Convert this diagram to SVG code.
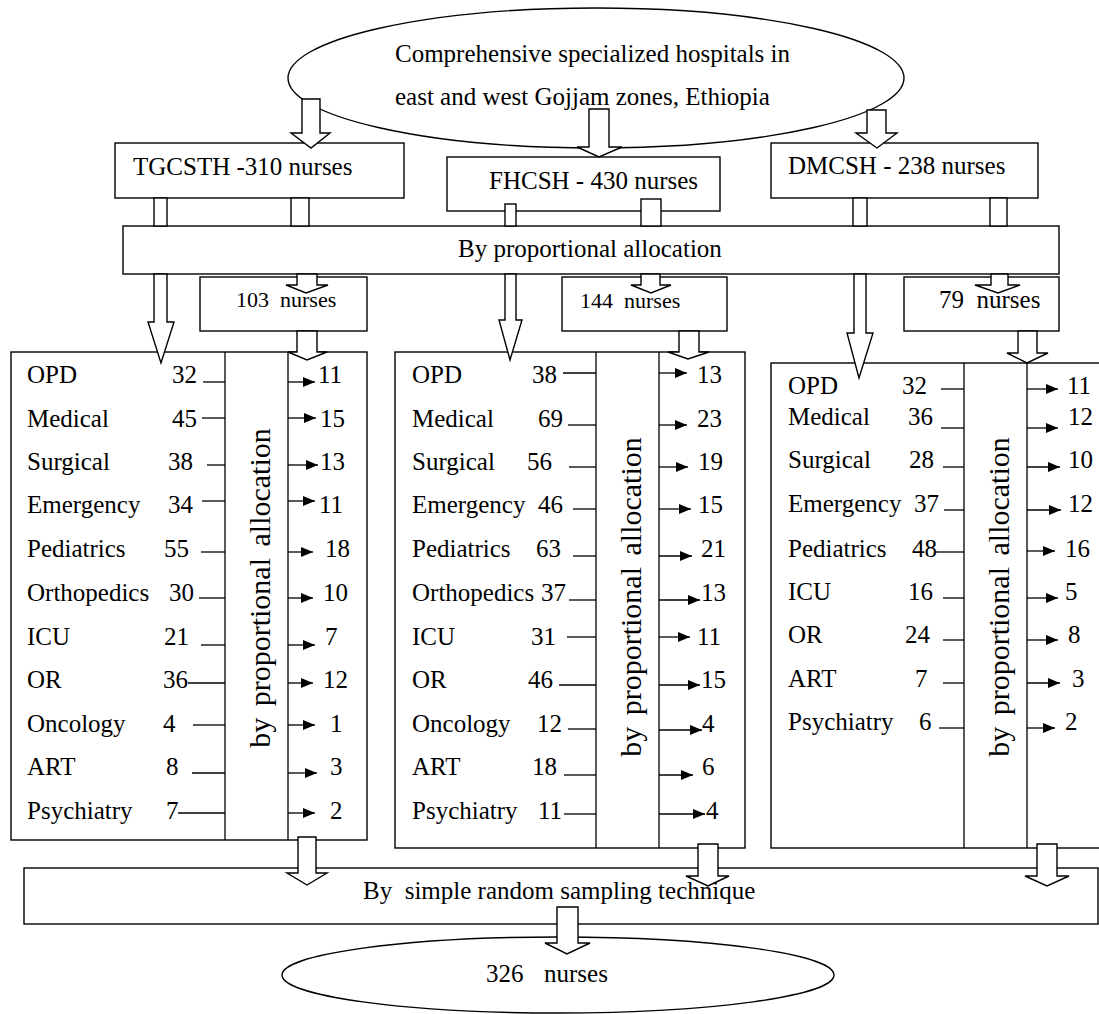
<svg xmlns="http://www.w3.org/2000/svg" width="1099" height="1014" viewBox="0 0 1099 1014">
<style>
.t{font-family:"Liberation Serif","Times New Roman",serif;font-size:25px;fill:#000}
.s{font-size:22px}
.r{font-size:30px;word-spacing:4px}
.b{fill:#fff;stroke:#000;stroke-width:1.4}
.ln{stroke:#000;stroke-width:1.3;fill:none}
.ba{fill:#fff;stroke:#000;stroke-width:1.4;stroke-linejoin:miter}
</style>
<defs>
<marker id="ah" markerUnits="userSpaceOnUse" markerWidth="12" markerHeight="10" refX="12" refY="5" orient="auto"><path d="M0,0 L12,5 L0,10 z" fill="#000"/></marker>
</defs>
<rect width="1099" height="1014" fill="#fff"/>

<g id="source">
<ellipse class="b" cx="596" cy="78" rx="308" ry="70"/>
<text class="t" x="395" y="62">Comprehensive specialized hospitals in</text>
<text class="t" x="395" y="105">east and west Gojjam zones, Ethiopia</text>
</g>

<g id="tgcsth"><rect class="b" x="115" y="143" width="289" height="55"/><text class="t" x="133" y="175">TGCSTH -310 nurses</text></g>
<g id="fhcsh"><rect class="b" x="447" y="157" width="273" height="54"/><text class="t" x="489" y="189">FHCSH - 430 nurses</text></g>
<g id="dmcsh"><rect class="b" x="771" y="143" width="267" height="55"/><text class="t" x="788" y="174">DMCSH - 238 nurses</text></g>

<g id="prop-bar"><rect class="b" x="123" y="226" width="936" height="48"/><text class="t" x="458" y="257">By proportional allocation</text></g>

<g id="n103"><rect class="b" x="200" y="277" width="167" height="54"/><text class="t s" x="236" y="307" xml:space="preserve">103  nurses</text></g>
<g id="n144"><rect class="b" x="562" y="277" width="165" height="54"/><text class="t s" x="580" y="308" xml:space="preserve">144  nurses</text></g>
<g id="n79"><rect class="b" x="904" y="277" width="155" height="54"/><text class="t" x="939" y="308" xml:space="preserve">79  nurses</text></g>

<g id="wards-tgcsth">
<rect class="b" x="11" y="352" width="356" height="488"/>
<line class="ln" x1="225" y1="352" x2="225" y2="840"/>
<line class="ln" x1="288" y1="352" x2="288" y2="840"/>
<text class="t r" transform="translate(270,588) rotate(-90)" text-anchor="middle">by proportional allocation</text>
<text class="t" x="27" y="383">OPD</text><text class="t" x="172" y="383">32</text><text class="t" x="318" y="383">11</text>
<text class="t" x="27" y="427">Medical</text><text class="t" x="172" y="427">45</text><text class="t" x="320" y="427">15</text>
<text class="t" x="27" y="470">Surgical</text><text class="t" x="168" y="470">38</text><text class="t" x="320" y="470">13</text>
<text class="t" x="27" y="513">Emergency</text><text class="t" x="168" y="513">34</text><text class="t" x="319" y="513">11</text>
<text class="t" x="27" y="557">Pediatrics</text><text class="t" x="164" y="557">55</text><text class="t" x="325" y="557">18</text>
<text class="t" x="27" y="601">Orthopedics</text><text class="t" x="169" y="601">30</text><text class="t" x="323" y="601">10</text>
<text class="t" x="27" y="645">ICU</text><text class="t" x="164" y="645">21</text><text class="t" x="325" y="645">7</text>
<text class="t" x="27" y="688">OR</text><text class="t" x="163" y="688">36</text><text class="t" x="323" y="688">12</text>
<text class="t" x="27" y="732">Oncology</text><text class="t" x="163" y="732">4</text><text class="t" x="330" y="732">1</text>
<text class="t" x="27" y="775">ART</text><text class="t" x="166" y="775">8</text><text class="t" x="330" y="775">3</text>
<text class="t" x="27" y="819">Psychiatry</text><text class="t" x="166" y="819">7</text><text class="t" x="330" y="819">2</text>
</g>

<g id="wards-fhcsh">
<rect class="b" x="395" y="352" width="350" height="496"/>
<line class="ln" x1="596" y1="352" x2="596" y2="848"/>
<line class="ln" x1="659" y1="352" x2="659" y2="848"/>
<text class="t r" transform="translate(641,597) rotate(-90)" text-anchor="middle">by proportional allocation</text>
<text class="t" x="412" y="383">OPD</text><text class="t" x="532" y="383">38</text><text class="t" x="697" y="383">13</text>
<text class="t" x="412" y="427">Medical</text><text class="t" x="538" y="427">69</text><text class="t" x="697" y="427">23</text>
<text class="t" x="412" y="470">Surgical</text><text class="t" x="527" y="470">56</text><text class="t" x="698" y="470">19</text>
<text class="t" x="412" y="513">Emergency</text><text class="t" x="538" y="513">46</text><text class="t" x="698" y="513">15</text>
<text class="t" x="412" y="557">Pediatrics</text><text class="t" x="536" y="557">63</text><text class="t" x="701" y="557">21</text>
<text class="t" x="412" y="601">Orthopedics</text><text class="t" x="541" y="601">37</text><text class="t" x="701" y="601">13</text>
<text class="t" x="412" y="645">ICU</text><text class="t" x="531" y="645">31</text><text class="t" x="697" y="645">11</text>
<text class="t" x="412" y="688">OR</text><text class="t" x="528" y="688">46</text><text class="t" x="701" y="688">15</text>
<text class="t" x="412" y="732">Oncology</text><text class="t" x="537" y="732">12</text><text class="t" x="702" y="732">4</text>
<text class="t" x="412" y="775">ART</text><text class="t" x="532" y="775">18</text><text class="t" x="702" y="775">6</text>
<text class="t" x="412" y="819">Psychiatry</text><text class="t" x="538" y="819">11</text><text class="t" x="706" y="819">4</text>
</g>

<g id="wards-dmcsh">
<rect class="b" x="771" y="363" width="340" height="485"/>
<line class="ln" x1="964" y1="363" x2="964" y2="848"/>
<line class="ln" x1="1027" y1="363" x2="1027" y2="848"/>
<text class="t r" transform="translate(1009,597) rotate(-90)" text-anchor="middle">by proportional allocation</text>
<text class="t" x="788" y="394">OPD</text><text class="t" x="902" y="394">32</text><text class="t" x="1067" y="394">11</text>
<text class="t" x="788" y="425">Medical</text><text class="t" x="908" y="425">36</text><text class="t" x="1068" y="425">12</text>
<text class="t" x="788" y="468">Surgical</text><text class="t" x="909" y="468">28</text><text class="t" x="1068" y="468">10</text>
<text class="t" x="788" y="512">Emergency</text><text class="t" x="914" y="512">37</text><text class="t" x="1068" y="512">12</text>
<text class="t" x="788" y="557">Pediatrics</text><text class="t" x="912" y="557">48</text><text class="t" x="1065" y="557">16</text>
<text class="t" x="788" y="600">ICU</text><text class="t" x="908" y="600">16</text><text class="t" x="1065" y="600">5</text>
<text class="t" x="788" y="643">OR</text><text class="t" x="905" y="643">24</text><text class="t" x="1068" y="643">8</text>
<text class="t" x="788" y="687">ART</text><text class="t" x="915" y="687">7</text><text class="t" x="1072" y="687">3</text>
<text class="t" x="788" y="730">Psychiatry</text><text class="t" x="919" y="730">6</text><text class="t" x="1065" y="730">2</text>
</g>

<g id="srs-bar"><rect class="b" x="24" y="868" width="1074" height="56"/><text class="t" x="363" y="899" xml:space="preserve">By  simple random sampling technique</text></g>

<g id="result">
<ellipse class="b" cx="558" cy="975" rx="276" ry="38"/>
<text class="t" x="486" y="982">326<tspan x="544">nurses</tspan></text>
</g>

<g id="connectors">
<polygon class="ba" points="302,99 320,99 320,133 330,133 311,148 291,133 302,133"/>
<polygon class="ba" points="589,109 609,109 609,147 622,147 599,157 577,147 589,147"/>
<polygon class="ba" points="867,110 886,110 886,133 897,133 877,148 856,133 867,133"/>
<rect class="ba" x="154" y="198" width="13" height="28"/>
<rect class="ba" x="291" y="198" width="18" height="28"/>
<rect class="ba" x="505" y="204" width="11" height="22"/>
<rect class="ba" x="641" y="199" width="20" height="27"/>
<rect class="ba" x="853" y="198" width="14" height="28"/>
<rect class="ba" x="990" y="198" width="17" height="28"/>
<polygon class="ba" points="154,274 167,274 167,322 174,322 161,363 148,322 154,322"/>
<polygon class="ba" points="297,274 317,274 317,285 328,285 306,293 286,285 297,285"/>
<polygon class="ba" points="297,331 317,331 317,352 327,352 307,360 288,352 297,352"/>
<polygon class="ba" points="505,274 516,274 516,320 522,320 510,360 499,320 505,320"/>
<polygon class="ba" points="641,274 660,274 660,285 671,285 651,293 631,285 641,285"/>
<polygon class="ba" points="679,331 699,331 699,352 709,352 688,359 668,352 679,352"/>
<polygon class="ba" points="854,274 866,274 866,333 873,333 859,378 847,333 854,333"/>
<polygon class="ba" points="991,274 1008,274 1008,285 1020,285 998,293 975,285 991,285"/>
<polygon class="ba" points="1018,331 1037,331 1037,353 1048,353 1027,363 1007,353 1018,353"/>
<polygon class="ba" points="298,837 316,837 316,873 327,873 307,885 287,873 298,873"/>
<polygon class="ba" points="698,844 718,844 718,876 729,876 708,886 686,876 698,876"/>
<polygon class="ba" points="1037,844 1057,844 1057,876 1069,876 1047,886 1025,876 1037,876"/>
<polygon class="ba" points="557,907 578,907 578,943 590,943 567,954 545,943 557,943"/>

<g class="ln">
<line x1="203" y1="382" x2="225" y2="382"/>
<line x1="202" y1="418" x2="225" y2="418"/>
<line x1="207" y1="465" x2="225" y2="465"/>
<line x1="202" y1="501" x2="225" y2="501"/>
<line x1="201" y1="552" x2="225" y2="552"/>
<line x1="199" y1="598" x2="225" y2="598"/>
<line x1="201" y1="645" x2="225" y2="645"/>
<line x1="188" y1="683" x2="225" y2="683"/>
<line x1="193" y1="725" x2="225" y2="725"/>
<line x1="192" y1="773" x2="225" y2="773"/>
<line x1="178" y1="813" x2="225" y2="813"/>
<line x1="563" y1="373" x2="596" y2="373"/>
<line x1="568" y1="425" x2="596" y2="425"/>
<line x1="569" y1="467" x2="596" y2="467"/>
<line x1="573" y1="509" x2="596" y2="509"/>
<line x1="573" y1="556" x2="596" y2="556"/>
<line x1="569" y1="600" x2="596" y2="600"/>
<line x1="567" y1="637" x2="596" y2="637"/>
<line x1="559" y1="685" x2="596" y2="685"/>
<line x1="568" y1="729" x2="596" y2="729"/>
<line x1="564" y1="775" x2="596" y2="775"/>
<line x1="564" y1="814" x2="596" y2="814"/>
<line x1="941" y1="389" x2="964" y2="389"/>
<line x1="941" y1="428" x2="964" y2="428"/>
<line x1="943" y1="467" x2="964" y2="467"/>
<line x1="944" y1="510" x2="964" y2="510"/>
<line x1="936" y1="552" x2="964" y2="552"/>
<line x1="943" y1="598" x2="964" y2="598"/>
<line x1="943" y1="640" x2="964" y2="640"/>
<line x1="943" y1="683" x2="964" y2="683"/>
<line x1="939" y1="728" x2="964" y2="728"/>
</g>
<g class="ln" marker-end="url(#ah)">
<line x1="288" y1="382" x2="315" y2="382"/>
<line x1="288" y1="418" x2="316" y2="418"/>
<line x1="288" y1="465" x2="318" y2="465"/>
<line x1="288" y1="501" x2="315" y2="501"/>
<line x1="288" y1="552" x2="313" y2="552"/>
<line x1="288" y1="598" x2="313" y2="598"/>
<line x1="288" y1="645" x2="315" y2="645"/>
<line x1="288" y1="683" x2="313" y2="683"/>
<line x1="288" y1="725" x2="315" y2="725"/>
<line x1="288" y1="773" x2="317" y2="773"/>
<line x1="288" y1="813" x2="315" y2="813"/>
<line x1="659" y1="373" x2="687" y2="373"/>
<line x1="659" y1="425" x2="687" y2="425"/>
<line x1="659" y1="467" x2="688" y2="467"/>
<line x1="659" y1="509" x2="691" y2="509"/>
<line x1="659" y1="556" x2="692" y2="556"/>
<line x1="659" y1="600" x2="700" y2="600"/>
<line x1="659" y1="637" x2="690" y2="637"/>
<line x1="659" y1="685" x2="700" y2="685"/>
<line x1="659" y1="730" x2="702" y2="730"/>
<line x1="659" y1="775" x2="693" y2="775"/>
<line x1="659" y1="814" x2="705" y2="814"/>
<line x1="1027" y1="389" x2="1058" y2="389"/>
<line x1="1027" y1="428" x2="1058" y2="428"/>
<line x1="1027" y1="467" x2="1060" y2="467"/>
<line x1="1027" y1="510" x2="1061" y2="510"/>
<line x1="1027" y1="551" x2="1055" y2="551"/>
<line x1="1027" y1="598" x2="1058" y2="598"/>
<line x1="1027" y1="640" x2="1058" y2="640"/>
<line x1="1027" y1="683" x2="1060" y2="683"/>
<line x1="1027" y1="728" x2="1055" y2="728"/>
</g>
</g>
</svg>
